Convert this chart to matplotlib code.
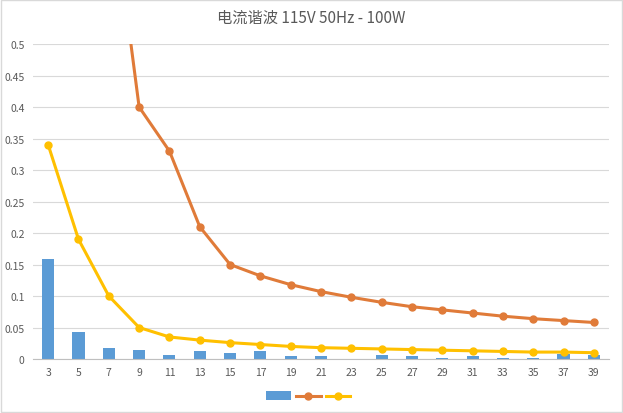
import numpy as np
import matplotlib.pyplot as plt
from matplotlib.patches import Rectangle

plt.rcParams['font.family'] = ['Noto Sans CJK SC', 'DejaVu Sans']

# 谐波次数
harmonics = [3, 5, 7, 9, 11, 13, 15, 17, 19, 21, 23, 25, 27, 29, 31, 33, 35, 37, 39]
# 实测电流 (A)
measured = [0.158, 0.043, 0.018, 0.015, 0.007, 0.012, 0.009, 0.013, 0.004, 0.004,
            0.0005, 0.007, 0.005, 0.002, 0.005, 0.002, 0.002, 0.008, 0.006]
# Class A 限值
limit_a = [2.30, 1.14, 0.77, 0.40, 0.33, 0.21, 0.15, 0.132, 0.118, 0.107,
           0.098, 0.090, 0.083, 0.078, 0.073, 0.068, 0.064, 0.061, 0.058]
# Class D 限值 (100W)
limit_d = [0.34, 0.19, 0.10, 0.05, 0.035, 0.030, 0.026, 0.023, 0.020, 0.018,
           0.017, 0.016, 0.015, 0.014, 0.013, 0.012, 0.011, 0.011, 0.010]

x = np.arange(len(harmonics))

fig = plt.figure(figsize=(6.23, 4.14), dpi=100)
ax = fig.add_axes([0.053, 0.1304, 0.9245, 0.7609])

bars = ax.bar(x, measured, width=0.4, color='#5B9BD5', zorder=2)
l1, = ax.plot(x, limit_a, color='#E07B39', lw=2.2, marker='o', ms=5, zorder=3)
l2, = ax.plot(x, limit_d, color='#FFC000', lw=2.2, marker='o', ms=5, zorder=3)

ax.set_xlim(-0.5, len(x) - 0.5)
ax.set_ylim(0, 0.5)
ax.set_yticks(np.arange(0, 0.501, 0.05))
ax.set_yticklabels(['0', '0.05', '0.1', '0.15', '0.2', '0.25', '0.3', '0.35', '0.4', '0.45', '0.5'])
ax.set_xticks(x)
ax.set_xticklabels([str(h) for h in harmonics])
ax.tick_params(length=0, labelsize=7.5, colors='#595959', pad=6)
ax.grid(axis='y', color='#D9D9D9', lw=0.8, zorder=0)
for s in ['top', 'right', 'left']:
    ax.spines[s].set_visible(False)
ax.spines['bottom'].set_color('#BFBFBF')

fig.suptitle('电流谐波 115V 50Hz - 100W', y=0.977, fontsize=11, color='#595959')

fig.legend([bars, l1, l2], ['', '', ''], ncol=3, loc='center', bbox_to_anchor=(0.495, 0.04),
           frameon=False, handlelength=1.75, handletextpad=0, columnspacing=0.4)

fig.patches.append(Rectangle((0.002, 0.002), 0.996, 0.996, transform=fig.transFigure,
                             fill=False, edgecolor='#D9D9D9', lw=1))

fig.savefig('out.png', dpi=100)
